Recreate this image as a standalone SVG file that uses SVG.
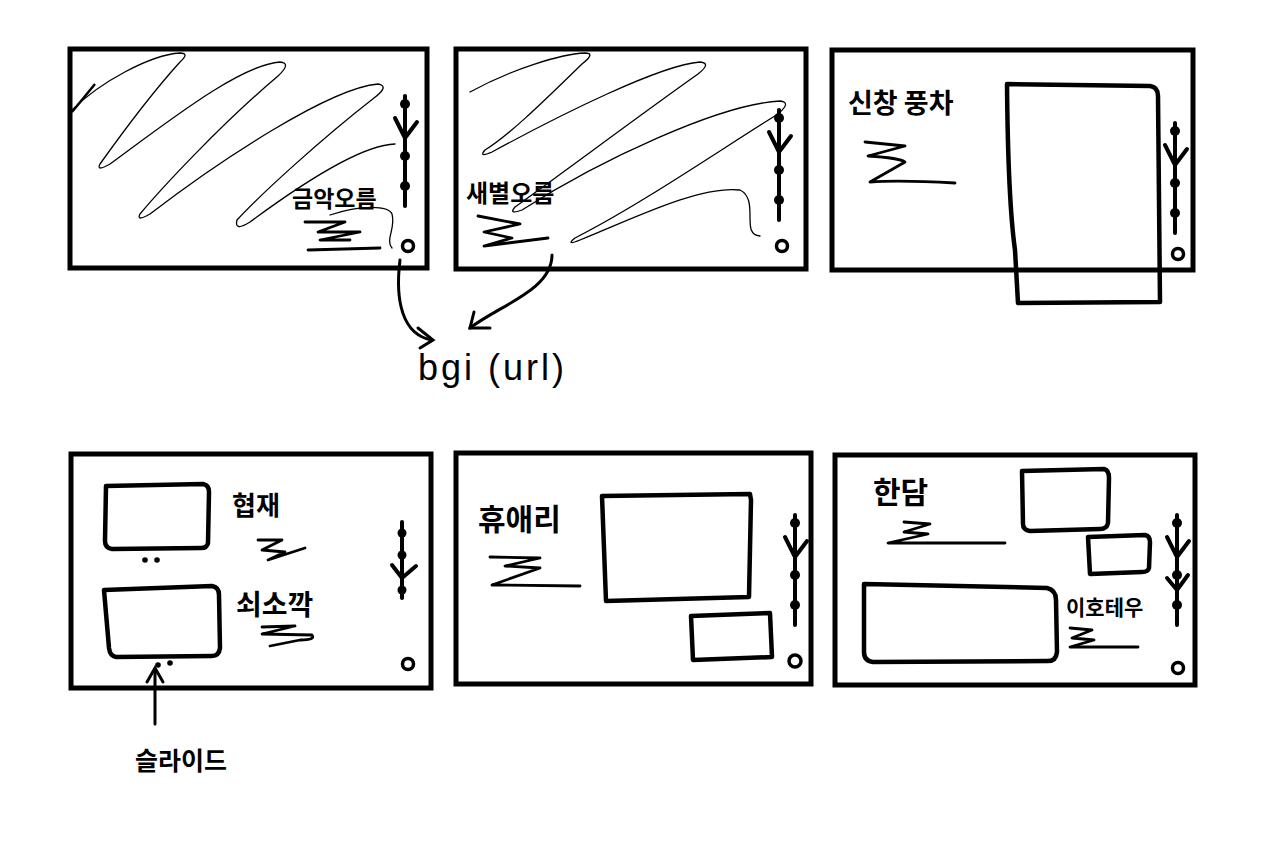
<svg xmlns="http://www.w3.org/2000/svg" width="1280" height="865" viewBox="0 0 1280 865">
<style>
.frame{fill:none;stroke:#000;stroke-width:5}
.box{fill:none;stroke:#000;stroke-width:4.5;stroke-linejoin:round}
.scr{fill:none;stroke:#000;stroke-width:1.3;stroke-linecap:round}
.zz{fill:none;stroke:#000;stroke-width:2.8;stroke-linecap:round;stroke-linejoin:round}
.bar{fill:none;stroke:#000;stroke-width:4;stroke-linecap:round;stroke-linejoin:round}
.dot{fill:#000}
.ring{fill:none;stroke:#000;stroke-width:3.5}
.lbl{font-family:"Noto Sans CJK KR","Noto Sans",sans-serif;font-weight:700;fill:#000}
.conn{fill:none;stroke:#000;stroke-width:3;stroke-linecap:round}
</style>
<defs>
<g id="scroll">
<line x1="0" y1="0" x2="0" y2="110" class="bar"/>
<circle cx="0" cy="8" r="5" class="dot"/>
<circle cx="0" cy="60" r="5" class="dot"/>
<circle cx="0" cy="90" r="5" class="dot"/>
<path d="M-10,22 L0,42 L12,26" class="bar"/>
</g>
</defs>
<rect width="1280" height="865" fill="#fff"/>

<g id="panel1">
<rect x="70" y="49" width="357" height="219" class="frame"/>
<path class="scr" d="M72,110 C100,82 150,55 180,53 Q190,53 180,62 C150,95 110,150 100,164 Q96,172 110,164 C170,120 240,65 280,62 Q292,63 278,76 C220,125 160,190 140,214 Q136,222 150,214 C220,160 330,88 378,84 Q390,86 374,98 C320,140 260,195 237,220 Q234,232 250,222 C300,185 360,145 395,144"/>
<path class="scr" d="M330,215 C360,205 388,205 392,214 C396,228 385,240 392,248"/>
<path d="M72,112 L95,84" stroke="#000" stroke-width="2.5" fill="none"/>
<use href="#scroll" x="405" y="96"/>
<circle cx="408" cy="246" r="5.5" class="ring"/>
<text x="292" y="207" class="lbl" font-size="23">금악오름</text>
<path class="zz" d="M305,222 L345,222 L318,232 L360,232 L320,240 L350,240 M308,250 L380,248"/>
</g>

<g id="panel2">
<rect x="456" y="49" width="350" height="220" class="frame"/>
<path class="scr" d="M470,92 C510,70 560,54 585,53 Q596,53 582,64 C550,95 510,135 485,150 Q478,158 492,152 C560,115 660,65 700,62 Q712,63 698,74 C640,115 560,175 515,207 Q508,215 522,210 C600,160 720,104 780,101 Q792,102 778,114 C720,150 640,205 575,238 Q565,246 580,240 C630,220 700,185 740,190 C760,200 740,235 760,236"/>
<use href="#scroll" x="779" y="110"/>
<circle cx="782" cy="246" r="5.5" class="ring"/>
<text x="466" y="202" class="lbl" font-size="24">새별오름</text>
<path class="zz" d="M478,216 L520,224 L484,232 L512,238 L484,246 L548,238"/>
</g>

<g id="panel3">
<rect x="832" y="50" width="361" height="220" class="frame"/>
<path class="box" d="M1007,84 L1150,86 Q1158,87 1158,96 L1160,302 L1018,303 L1015,250 Q1008,200 1007,84 Z"/>
<use href="#scroll" x="1175" y="123"/>
<circle cx="1178" cy="254" r="5.5" class="ring"/>
<text x="848" y="113" class="lbl" font-size="27">신창 풍차</text>
<path class="zz" d="M865,142 L905,146 L868,156 Q900,158 905,162 L870,182 Q900,180 955,183"/>
</g>

<g id="panel4">
<rect x="71" y="454" width="360" height="234" class="frame"/>
<path class="box" d="M106,486 L203,484 Q209,485 209,492 L208,543 Q207,548 201,548 L112,549 Q105,548 105,541 Z"/>
<path class="box" d="M104,590 L212,586 Q219,587 219,595 L220,648 Q219,656 212,656 L116,657 Q110,656 109,648 Z"/>
<circle cx="145" cy="560" r="2.8" class="dot"/>
<circle cx="157" cy="560" r="2.8" class="dot"/>
<circle cx="158" cy="665" r="2.8" class="dot"/>
<circle cx="170" cy="663" r="2.8" class="dot"/>
<line x1="402" y1="522" x2="402" y2="598" class="bar"/>
<circle cx="402" cy="533" r="4.5" class="dot"/>
<circle cx="402" cy="555" r="4.5" class="dot"/>
<circle cx="402" cy="590" r="4.5" class="dot"/>
<path class="bar" d="M392,565 L402,578 L416,566"/>
<circle cx="408" cy="664" r="5.5" class="ring"/>
<text x="232" y="515" class="lbl" font-size="26">협재</text>
<path class="zz" d="M258,540 L282,540 L262,550 L285,552 L268,560 L305,548"/>
<text x="236" y="615" class="lbl" font-size="28">쇠소깍</text>
<path class="zz" d="M262,627 L295,626 L262,634 L312,635 Q316,640 300,640 L270,646"/>
</g>

<g id="panel5">
<rect x="456" y="453" width="355" height="231" class="frame"/>
<path class="box" d="M602,496 L750,494 L751,500 L749,597 L606,601 Z"/>
<path class="box" d="M691,616 L770,613 L772,657 L693,660 Z"/>
<use href="#scroll" x="795" y="515"/>
<circle cx="795" cy="661" r="6" class="ring"/>
<text x="478" y="530" class="lbl" font-size="30">휴애리</text>
<path class="zz" d="M490,557 L540,558 L505,566 L540,568 L492,585 L580,586"/>
</g>

<g id="panel6">
<rect x="835" y="455" width="360" height="230" class="frame"/>
<path class="box" d="M1022,471 L1104,469 Q1109,470 1109,478 L1108,523 Q1107,529 1100,529 L1030,531 Q1023,530 1023,524 Z"/>
<path class="box" d="M1088,537 L1145,535 Q1150,536 1150,542 L1149,568 Q1148,572 1142,572 L1090,574 Z"/>
<path class="box" d="M864,584 L1047,588 Q1056,590 1056,600 L1057,652 Q1056,662 1046,661 L873,662 Q864,661 864,652 Z"/>
<use href="#scroll" x="1177" y="515"/>
<path class="bar" d="M1167,578 L1177,590 L1188,575"/>
<circle cx="1178" cy="668" r="5.5" class="ring"/>
<text x="873" y="503" class="lbl" font-size="30">한담</text>
<path class="zz" d="M904,522 L930,524 L904,532 L928,534 L888,543 L1005,543"/>
<text x="1066" y="615" class="lbl" font-size="21">이호테우</text>
<path class="zz" d="M1070,628 L1092,630 L1072,638 L1094,640 L1070,647 L1138,647"/>
</g>

<g id="connectors">
<path class="conn" d="M400,260 C395,300 402,335 432,340"/>
<path class="conn" d="M418,328 L433,340 L420,348"/>
<path class="conn" d="M552,255 C552,290 500,305 470,328"/>
<path class="conn" d="M474,312 L470,328 L490,328"/>
<path class="conn" d="M155,724 L155,670"/>
<path class="conn" d="M147,682 L155,668 L163,682"/>
</g>

<text x="418" y="380" class="lbl" font-size="36" letter-spacing="3" style="font-family:'Liberation Sans',sans-serif;font-weight:400">bgi (url)</text>
<text x="135" y="770" class="lbl" font-size="25">슬라이드</text>
</svg>
